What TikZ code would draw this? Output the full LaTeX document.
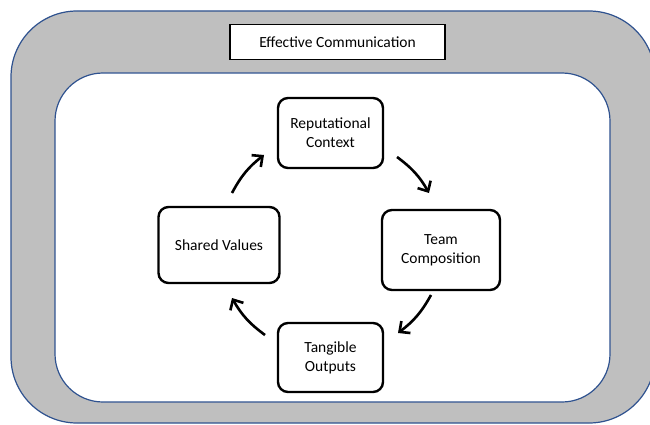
\documentclass[tikz,border=0pt]{standalone}
\usepackage{fontspec}
\setmainfont{Carlito}
\usetikzlibrary{arrows.meta}
\definecolor{frameblue}{HTML}{2F528F}
\definecolor{bandgray}{HTML}{BFBFBF}
\tikzset{
  box/.style={draw=black, line width=2.4pt, rounded corners=10pt, fill=white, align=center, font=\fontsize{15.5}{19}\selectfont},
  titlebox/.style={draw=black, line width=1.6pt, fill=white, font=\fontsize{15.5}{19}\selectfont},
  cyc/.style={line width=2.6pt, -{Straight Barb[length=8pt, width=15pt, line width=2.6pt]}},
}
\begin{document}
\begin{tikzpicture}[x=1pt, y=-1pt]
\useasboundingbox (0,0) rectangle (650,425);
\draw[frameblue, fill=bandgray, line width=1.2pt, rounded corners=66pt] (11,11) rectangle (655,423);
\draw[frameblue, fill=white, line width=1.2pt, rounded corners=48pt] (55,73) rectangle (610,402);
\node[titlebox, minimum width=215pt, minimum height=35pt] (title) at (337.5,42) {Effective Communication};
\node[box, minimum width=105pt, minimum height=70pt] (rc) at (330.5,133) {Reputational\\Context};
\node[box, minimum width=118pt, minimum height=80pt] (tc) at (441,250) {Team\\Composition};
\node[box, minimum width=121pt, minimum height=76pt] (sv) at (219,245) {Shared Values};
\node[box, minimum width=105pt, minimum height=69pt] (to) at (330.5,357.5) {Tangible\\Outputs};
\coordinate (a1) at (232,193); \coordinate (b1) at (264,155);
\coordinate (a2) at (397,157); \coordinate (b2) at (429,193);
\coordinate (a3) at (431,295); \coordinate (b3) at (398,333);
\coordinate (a4) at (265,335); \coordinate (b4) at (232,298);
\draw[cyc] (a1) to[bend left=12] (b1);
\draw[cyc] (a2) to[bend left=12] (b2);
\draw[cyc] (a3) to[bend left=12] (b3);
\draw[cyc] (a4) to[bend left=12] (b4);
\end{tikzpicture}
\end{document}
